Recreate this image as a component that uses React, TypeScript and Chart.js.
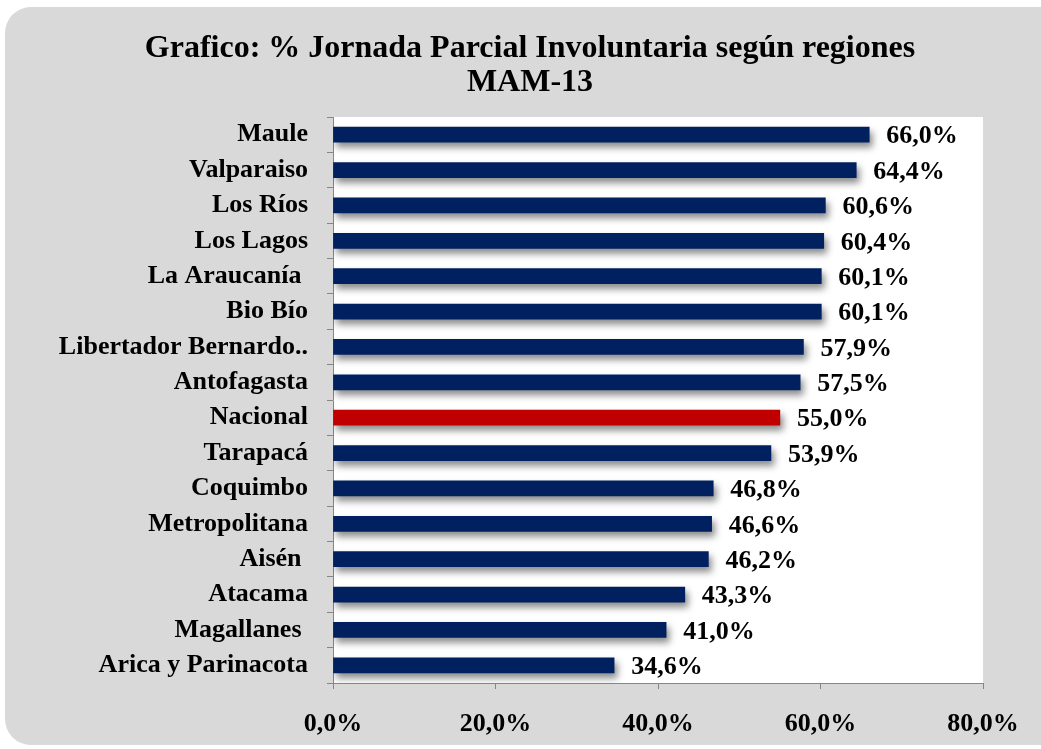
import React, { useEffect, useRef } from 'react';
import { Chart, registerables } from 'chart.js';
Chart.register(...registerables);

const categories = ['Maule', 'Valparaiso', 'Los Ríos', 'Los Lagos', 'La Araucanía ', 'Bio Bío', 'Libertador Bernardo..', 'Antofagasta', 'Nacional', 'Tarapacá', 'Coquimbo', 'Metropolitana', 'Aisén ', 'Atacama', 'Magallanes ', 'Arica y Parinacota'];
const values = [66.0, 64.4, 60.6, 60.4, 60.1, 60.1, 57.9, 57.5, 55.0, 53.9, 46.8, 46.6, 46.2, 43.3, 41.0, 34.6];
const highlightCategory = 'Nacional';
const titleLines = ['Grafico: % Jornada Parcial Involuntaria según regiones', 'MAM-13'];
const xMin = 0;
const xMax = 80;
const xStep = 20;

const FONT = "'Liberation Serif', 'Times New Roman', serif";
const fmt = (v: number) => v.toFixed(1).replace('.', ',') + '%';

const bgPlugin = {
  id: 'plotBg',
  beforeDraw(chart: any) {
    const { ctx, chartArea } = chart;
    ctx.save();
    ctx.fillStyle = '#ffffff';
    ctx.fillRect(chartArea.left, chartArea.top, chartArea.right - chartArea.left, chartArea.bottom - chartArea.top);
    ctx.restore();
  },
};

const titlePlugin = {
  id: 'centeredTitle',
  afterDraw(chart: any) {
    const { ctx } = chart;
    ctx.save();
    ctx.font = `bold 32px ${FONT}`;
    ctx.fillStyle = '#000';
    ctx.textAlign = 'center';
    ctx.textBaseline = 'middle';
    const cx = 525;
    titleLines.forEach((line, i) => {
      ctx.fillText(line, cx, 42 + i * 34);
    });
    ctx.restore();
  },
};

const shadowPlugin = {
  id: 'barShadow',
  beforeDatasetsDraw(chart: any) {
    const ctx = chart.ctx;
    ctx.save();
    ctx.shadowColor = 'rgba(0,0,0,0.45)';
    ctx.shadowBlur = 7;
    ctx.shadowOffsetX = 3;
    ctx.shadowOffsetY = 5;
  },
  afterDatasetsDraw(chart: any) {
    chart.ctx.restore();
  },
};

const labelPlugin = {
  id: 'valueLabels',
  afterDatasetsDraw(chart: any) {
    const { ctx } = chart;
    const meta = chart.getDatasetMeta(0);
    ctx.save();
    ctx.font = `bold 26px ${FONT}`;
    ctx.fillStyle = '#000';
    ctx.textAlign = 'left';
    ctx.textBaseline = 'middle';
    meta.data.forEach((bar: any, i: number) => {
      ctx.fillText(fmt(values[i]), bar.x + 17, bar.y + 2);
    });
    ctx.restore();
  },
};

export default function App() {
  const ref = useRef<HTMLCanvasElement>(null);
  useEffect(() => {
    if (!ref.current) return;
    const chart = new Chart(ref.current, {
      type: 'bar',
      data: {
        labels: categories,
        datasets: [
          {
            data: values,
            backgroundColor: categories.map((c) => (c === highlightCategory ? '#C00000' : '#002060')),
            borderWidth: 0,
            barThickness: 15,
          },
        ],
      },
      options: {
        indexAxis: 'y',
        responsive: false,
        animation: false,
        layout: { padding: { left: 0, right: 72, top: 110, bottom: 0 } },
        plugins: {
          legend: { display: false },
          tooltip: { enabled: false },
          title: { display: false },
        },
        scales: {
          x: {
            min: xMin,
            max: xMax,
            ticks: {
              stepSize: xStep,
              color: '#000',
              font: { family: FONT, size: 26, weight: 'bold' },
              padding: 20,
              callback: (v: any) => fmt(Number(v)),
            },
            grid: { drawOnChartArea: false, drawTicks: true, tickLength: 6, color: '#868686' },
            border: { color: '#868686', width: 1 },
            afterFit: (scale: any) => {
              scale.height = 62;
            },
          },
          y: {
            ticks: {
              color: '#000',
              font: { family: FONT, size: 26, weight: 'bold' },
              padding: 19,
            },
            grid: { offset: true, drawOnChartArea: false, drawTicks: true, tickLength: 6, color: '#868686' },
            border: { color: '#868686', width: 1 },
            afterFit: (scale: any) => {
              scale.width = 328;
            },
          },
        },
      },
      plugins: [bgPlugin, shadowPlugin, labelPlugin, titlePlugin],
    });
    return () => chart.destroy();
  }, []);

  return (
    <div style={{ position: 'fixed', left: 0, top: 0, width: 1041, height: 749, background: '#fff', overflow: 'hidden' }}>
      <div style={{ position: 'absolute', left: 5, top: 7, width: 1100, height: 738, borderRadius: 26, background: '#d9d9d9' }} />
      <canvas ref={ref} width={1050} height={738} style={{ position: 'absolute', left: 5, top: 7, width: 1050, height: 738 }} />
    </div>
  );
}
